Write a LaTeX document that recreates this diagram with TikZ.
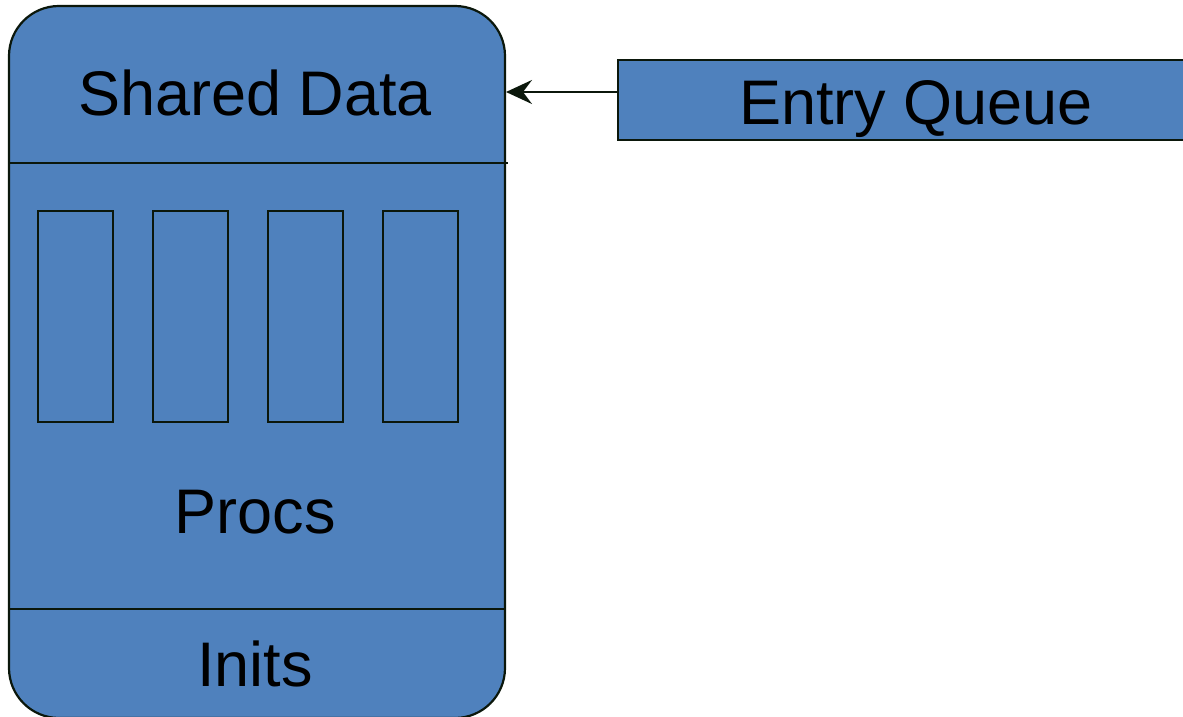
\documentclass[tikz,border=0pt]{standalone}
\usepackage{fontspec}
\setmainfont{Liberation Sans}
\usetikzlibrary{arrows.meta}
\definecolor{boxblue}{HTML}{4F81BD}
\definecolor{edge}{HTML}{0B170B}
\tikzset{
  panel/.style={draw=edge, fill=boxblue, line width=2.2pt},
  slot/.style={draw=edge, fill=boxblue, line width=2.8pt, minimum width=75pt, minimum height=211pt, inner sep=0pt},
  label/.style={font=\fontsize{63}{70}\selectfont, text=black, inner sep=0pt}
}
\begin{document}
\begin{tikzpicture}[x=1pt, y=-1pt]
  \useasboundingbox (0,0) rectangle (1183,717);
  % monitor outline
  \node[panel, rounded corners=50pt, minimum width=496pt, minimum height=712pt, inner sep=0pt] (monitor) at (257,362) {};
  % section dividers
  \coordinate (divTopL) at (9,163);
  \coordinate (divTopR) at (508,163);
  \coordinate (divBotL) at (9,609);
  \coordinate (divBotR) at (505,609);
  \draw[edge, line width=2.2pt] (divTopL) -- (divTopR);
  \draw[edge, line width=2.2pt] (divBotL) -- (divBotR);
  % procedure slots
  \node[slot] (p1) at (75.5,316.5) {};
  \node[slot] (p2) at (190.5,316.5) {};
  \node[slot] (p3) at (305.5,316.5) {};
  \node[slot] (p4) at (420.5,316.5) {};
  % labels
  \node[label] (shared) at (255,93) {Shared Data};
  \node[label] (procs) at (255,512) {Procs};
  \node[label] (inits) at (255,664) {Inits};
  % entry queue
  \node[panel, minimum width=580pt, minimum height=80pt, inner sep=0pt, anchor=west] (queue) at (617,100) {};
  \node[label] (qtext) at (916,109) {Entry Queue};
  \coordinate (qout) at (617,92);
  \coordinate (min) at (506,92);
  \draw[edge, line width=2.4pt, -{Stealth[length=26pt, width=24pt, inset=9pt]}] (qout) -- (min);
\end{tikzpicture}
\end{document}
